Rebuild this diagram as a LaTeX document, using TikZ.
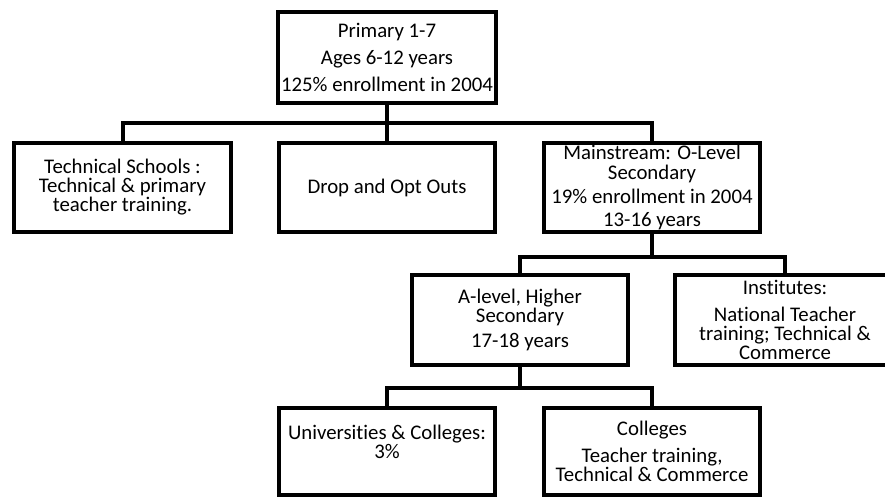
\documentclass[tikz,border=0pt]{standalone}
\usepackage{fontspec}
\setmainfont{Carlito}[Ligatures=NoCommon]
\begin{document}
\begin{tikzpicture}[x=0.75pt,y=-0.75pt,
  orgbox/.style={draw=black, line width=3pt, fill=white, inner sep=0pt,
    align=center, text=black, font=\fontsize{15.6}{14.25}\selectfont},
  conn/.style={draw=black, line width=3pt}]
\clip (0,0) rectangle (885,501);
\fill[white] (0,0) rectangle (885,501);

\node[orgbox, minimum width=163.5pt, minimum height=68.25pt] (top) at (387,57.5)
  {Primary 1-7\\[6pt]Ages 6-12 years\\[6pt]125\% enrollment in 2004};

\node[orgbox, minimum width=162.75pt, minimum height=66.75pt] (tech) at (122.5,187.5)
  {Technical Schools :\\Technical \& primary\\teacher training.};
\node[orgbox, minimum width=162pt, minimum height=66.75pt] (drop) at (387,187.5)
  {Drop and Opt Outs};
\node[orgbox, minimum width=162pt, minimum height=66.75pt] (main) at (652,187.5)
  {Mainstream: O-Level\\[1pt]Secondary\\[3.5pt]19\% enrollment in 2004\\[3.5pt]13-16 years};

\node[orgbox, minimum width=162pt, minimum height=67.5pt] (alevel) at (520,320)
  {A-level, Higher\\Secondary\\[5pt]17-18 years};
\node[orgbox, minimum width=165pt, minimum height=67.5pt] (inst) at (785,320)
  {Institutes:\\[6pt]National Teacher\\training; Technical \&\\Commerce};

\node[orgbox, minimum width=162pt, minimum height=65.25pt] (univ) at (387,451.5)
  {Universities \& Colleges:\\3\%\\[1pt]\mbox{}};
\node[orgbox, minimum width=162pt, minimum height=65.25pt] (coll) at (652,451.5)
  {Colleges\\[6pt]Teacher training,\\Technical \& Commerce};

\coordinate (bus1) at (387,123);
\coordinate (bus2) at (652,257);
\coordinate (bus3) at (520,388);

\draw[conn] (top.south) -- (bus1);
\draw[conn] (tech.north) |- (bus1) -| (main.north);
\draw[conn] (bus1) -- (drop.north);

\draw[conn] (main.south) -- (bus2);
\draw[conn] (alevel.north) |- (bus2) -| (inst.north);

\draw[conn] (alevel.south) -- (bus3);
\draw[conn] (univ.north) |- (bus3) -| (coll.north);
\end{tikzpicture}
\end{document}
